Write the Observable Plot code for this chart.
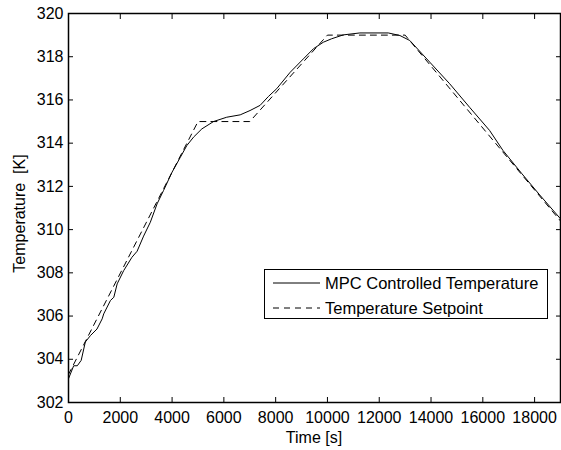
<!DOCTYPE html>
<html>
<head>
<meta charset="utf-8">
<script src="https://cdn.jsdelivr.net/npm/d3@7"></script>
<script src="https://cdn.jsdelivr.net/npm/@observablehq/plot@0.6"></script>
<style>
  html, body { margin: 0; padding: 0; background: white; }
  #chart { width: 561px; height: 450px; }
</style>
</head>
<body>
<div id="chart"></div>
<script>
// MPC controlled temperature (solid)
const timeMPC = [0, 200, 340, 490, 650, 850, 1100, 1300, 1360, 1620, 1750, 1880, 2130, 2450, 2650, 2900, 3160, 3420, 3670, 4000, 4320, 4570, 4830, 5150, 5600, 6110, 6630, 7010, 7400, 7720, 8040, 8560, 9070, 9460, 9840, 10160, 10610, 11250, 12350, 12800, 13180, 13950, 14720, 15490, 16260, 16780, 17500, 18200, 19000];
const tempMPC = [303.1, 303.7, 303.7, 303.95, 304.8, 305.1, 305.4, 305.87, 306.1, 306.72, 306.87, 307.49, 308.1, 308.72, 309.0, 309.7, 310.34, 311.19, 311.81, 312.66, 313.35, 313.89, 314.28, 314.66, 315.0, 315.2, 315.31, 315.51, 315.75, 316.16, 316.52, 317.28, 317.9, 318.37, 318.67, 318.83, 319.01, 319.1, 319.1, 318.98, 318.75, 317.75, 316.75, 315.66, 314.59, 313.66, 312.6, 311.6, 310.5];

// Temperature setpoint (dashed)
const timeSP = [0, 5000, 7000, 10000, 13000, 19000];
const tempSP = [303.3, 315, 315, 319, 319, 310.4];

const xTicks = [0, 2000, 4000, 6000, 8000, 10000, 12000, 14000, 16000, 18000];
const yTicks = [302, 304, 306, 308, 310, 312, 314, 316, 318, 320];

const seriesNames = ["MPC Controlled Temperature", "Temperature Setpoint"];
const xLabel = "Time [s]";
const yLabel = "Temperature  [K]";

const mpc = timeMPC.map((t, i) => ({t, v: tempMPC[i]}));
const sp = timeSP.map((t, i) => ({t, v: tempSP[i]}));

const W = 561, H = 450;
const mL = 68, mR = 1, mT = 13, mB = 48;
const blank = () => "";

const plot = Plot.plot({
  width: W, height: H,
  marginLeft: mL, marginRight: mR, marginTop: mT, marginBottom: mB,
  style: {fontSize: "16px", fontFamily: "'Liberation Sans', Arial, sans-serif", background: "white", color: "black", overflow: "visible"},
  x: {domain: [0, 19000]},
  y: {domain: [302, 320]},
  marks: [
    Plot.frame({stroke: "black", strokeWidth: 1.5}),
    Plot.axisX(xTicks, {anchor: "bottom", tickSize: 0, tickPadding: 9, label: null, tickFormat: d => String(d)}),
    Plot.axisX(xTicks, {anchor: "bottom", tickSize: -5, label: null, tickFormat: blank}),
    Plot.axisX(xTicks, {anchor: "top", tickSize: -5, label: null, tickFormat: blank}),
    Plot.axisY(yTicks, {anchor: "left", tickSize: 0, tickPadding: 5, label: null, tickFormat: d => String(d)}),
    Plot.axisY(yTicks, {anchor: "left", tickSize: -5, label: null, tickFormat: blank}),
    Plot.axisY(yTicks, {anchor: "right", tickSize: -5, label: null, tickFormat: blank}),
    Plot.line(sp, {x: "t", y: "v", stroke: "black", strokeWidth: 1, strokeDasharray: "6,5", clip: true}),
    Plot.line(mpc, {x: "t", y: "v", stroke: "black", strokeWidth: 1, clip: true})
  ]
});

const svg = d3.select(plot);
const font = "'Liberation Sans', Arial, sans-serif";
// axis labels
svg.append("text").attr("x", (mL + W - mR) / 2).attr("y", 443)
  .attr("text-anchor", "middle").attr("font-size", 16).attr("font-family", font).attr("fill", "black").text(xLabel);
svg.append("text").attr("transform", `translate(25,${(mT + H - mB) / 2 + 6}) rotate(-90)`)
  .attr("text-anchor", "middle").attr("font-size", 16).attr("font-family", font).attr("fill", "black").text(yLabel);

// legend
const lg = svg.append("g").attr("text-anchor", "start");
lg.append("rect").attr("x", 264.5).attr("y", 269.5).attr("width", 283).attr("height", 49)
  .attr("fill", "white").attr("stroke", "black").attr("stroke-width", 1);
const rows = [{y: 283, dash: null}, {y: 308, dash: "6,5"}];
rows.forEach((r, i) => {
  lg.append("line").attr("x1", 273).attr("x2", 320).attr("y1", r.y).attr("y2", r.y)
    .attr("stroke", "black").attr("stroke-width", 1).attr("stroke-dasharray", r.dash);
  lg.append("text").attr("x", 325).attr("y", r.y + 6).attr("text-anchor", "start")
    .attr("font-size", 16.5).attr("font-family", font).attr("fill", "black").text(seriesNames[i]);
});

document.getElementById("chart").appendChild(plot);
</script>
</body>
</html>
